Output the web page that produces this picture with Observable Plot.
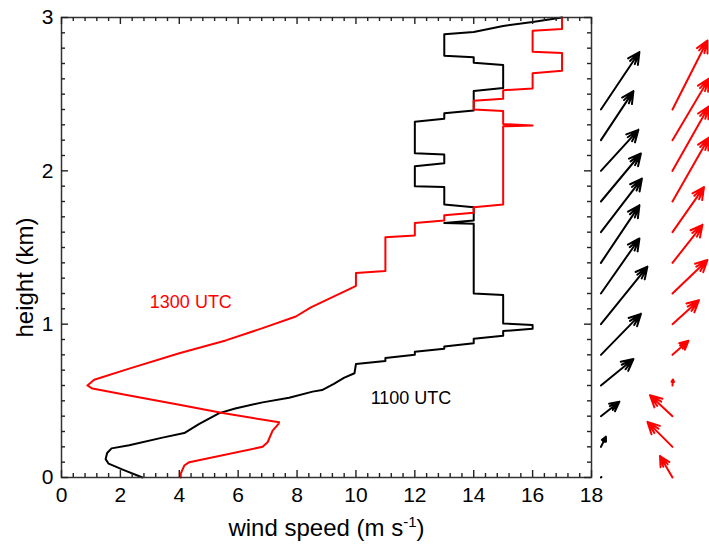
<!DOCTYPE html>
<html><head><meta charset="utf-8">
<script src="https://cdn.jsdelivr.net/npm/d3@7"></script>
<script src="https://cdn.jsdelivr.net/npm/@observablehq/plot@0.6"></script>
<style>
body{margin:0;background:#fff;}
svg{display:block;}
</style></head><body><div id="chart"></div>
<script>
// 1100 UTC profile (wind speed m/s, height km)
const speed1100 = [2.75,2.1,1.6,1.5,1.55,1.7,2.3,3.43,4.17,4.68,5.36,5.9,6.83,7.73,8.53,8.85,9.25,9.59,9.95,10,11,11,12,12,13,13,14,14,15,15,16,16,15,15,14,14,13,14,14,13,13,12,12,13,13,12,12,13,13,14,14,15,15,14,14,13,13,14,15,16,17];
const height1100 = [0,0.05,0.09,0.12,0.16,0.19,0.21,0.26,0.29,0.35,0.42,0.45,0.49,0.52,0.56,0.57,0.61,0.65,0.68,0.74,0.76,0.78,0.8,0.82,0.84,0.855,0.875,0.905,0.925,0.955,0.97,0.995,1.005,1.19,1.2,1.655,1.66,1.676,1.763,1.78,1.894,1.9,2.03,2.05,2.107,2.115,2.32,2.34,2.376,2.394,2.52,2.54,2.69,2.705,2.74,2.75,2.89,2.905,2.945,2.97,3.0];
// 1300 UTC profile
const speed1300 = [4.05,4.05,4.17,4.34,6.83,7.0,7.17,7.37,7.39,5.47,4.0,2.3,1.05,0.88,1.11,2.3,4.0,5.58,6.83,7.96,8.47,9.9,10,10,11,11,12,12,13,13,14,14,15,15,16,15,15,14,14,15,15,16,16,17,17,16,16,17,17];
const height1300 = [0,0.025,0.078,0.1,0.2,0.23,0.306,0.35,0.36,0.42,0.474,0.535,0.58,0.6,0.637,0.71,0.81,0.894,0.974,1.05,1.11,1.24,1.25,1.333,1.346,1.567,1.578,1.66,1.676,1.71,1.727,1.763,1.78,2.29,2.295,2.305,2.39,2.4,2.457,2.47,2.526,2.537,2.637,2.653,2.768,2.777,2.914,2.925,3.0];

// wind vectors (u east, v north, m/s) at heights
const arrowHeights = [0,0.2,0.4,0.6,0.8,1.0,1.2,1.4,1.6,1.8,2.0,2.2,2.4];
const u1100 = [0.1,1.0,3.7,6.5,8.0,9.3,7.7,7.7,8.2,8.0,7.5,6.5,7.7];
const v1100 = [0.1,2.0,2.9,5.3,8.2,11.5,11.0,11.5,10.7,9.6,8.2,9.8,11.5];
const u1300 = [-2.5,-5.0,-4.5,0.1,3.2,5.3,7.0,6.0,6.3,7.3,7.3,7.3,7.0];
const v1300 = [4.3,5.0,4.2,1.2,2.8,4.8,6.7,7.6,9.0,12.8,12.9,12.3,13.8];

const xTicks = [0,2,4,6,8,10,12,14,16,18];
const yTicks = [0,1,2,3];
const xMinor = d3.range(0, 18.001, 0.4).filter(v => Math.abs(v/2 - Math.round(v/2)) > 1e-6);
const yMinor = d3.range(0, 3.001, 0.1).filter(v => Math.abs(v - Math.round(v)) > 1e-6);

const seriesLabels = ["1300 UTC", "1100 UTC"];
const labelSpeed = [3.0, 10.5];
const labelHeight = [1.14, 0.52];
const labelColor = ["#ff0000", "#000000"];

const xLabel = "wind speed (m s-1)";
const yLabel = "height (km)";

const prof1100 = speed1100.map((s, i) => ({speed: s, height: height1100[i]}));
const prof1300 = speed1300.map((s, i) => ({speed: s, height: height1300[i]}));
const vec = (us, vs) => arrowHeights.map((h, i) => ({
  height: h,
  speed: Math.hypot(us[i], vs[i]),
  dir: Math.atan2(us[i], vs[i]) * 180 / Math.PI
}));
const vec1100 = vec(u1100, v1100);
const vec1300 = vec(u1300, v1300);
const labels = seriesLabels.map((t, i) => ({text: t, speed: labelSpeed[i], height: labelHeight[i], color: labelColor[i]}));

const pxPerUnit = 5; // arrow length scale: pixels per m/s
const arrowShape = {draw(ctx, l) {
  ctx.moveTo(0, 0); ctx.lineTo(0, -l);
  const w = Math.min(13, l * 0.45);
  for (const a of [13, 27]) {
    const r = a * Math.PI / 180;
    ctx.moveTo(-w * Math.sin(r), -l + w * Math.cos(r)); ctx.lineTo(0, -l);
    ctx.lineTo(w * Math.sin(r), -l + w * Math.cos(r));
  }
}};

const font = "'Liberation Sans', Arial, Helvetica, sans-serif";

const W = 709, H = 547, ML = 61, MR = 118, MT = 17, MB = 70;
const frameW = W - ML - MR, frameH = H - MT - MB;
const tickStyle = {stroke: "#222", strokeWidth: 1.4};
const xTickMarks = (vals, len) => [
  Plot.tickX(vals, {x: d => d, insetTop: frameH - len, ...tickStyle}),
  Plot.tickX(vals, {x: d => d, insetBottom: frameH - len, ...tickStyle})
];
const yTickMarks = (vals, len) => [
  Plot.tickY(vals, {y: d => d, insetRight: frameW - len, ...tickStyle}),
  Plot.tickY(vals, {y: d => d, insetLeft: frameW - len, ...tickStyle})
];

const chart = Plot.plot({
  width: W,
  height: H,
  marginLeft: ML,
  marginRight: MR,
  marginTop: MT,
  marginBottom: MB,
  style: {fontFamily: font, background: "#fff", color: "#000"},
  x: {domain: [0, 18]},
  y: {domain: [0, 3]},
  length: {type: "linear", domain: [0, 20], range: [0, 20 * pxPerUnit]},
  marks: [
    Plot.line(prof1100, {x: "speed", y: "height", stroke: "#000", strokeWidth: 2}),
    Plot.line(prof1300, {x: "speed", y: "height", stroke: "#ff0000", strokeWidth: 2}),
    Plot.frame({stroke: "#333", strokeWidth: 1.5}),
    ...xTickMarks(xTicks, 7), ...xTickMarks(xMinor, 4),
    ...yTickMarks(yTicks, 7), ...yTickMarks(yMinor, 4),
    Plot.vector(vec1100, {x: () => 18.32, y: "height", length: "speed", rotate: "dir", anchor: "start", shape: arrowShape, stroke: "#000", strokeWidth: 2}),
    Plot.vector(vec1300, {x: () => 20.75, y: "height", length: "speed", rotate: "dir", anchor: "start", shape: arrowShape, stroke: "#ff0000", strokeWidth: 2}),
    Plot.axisX(xTicks, {tickSize: 0, tickPadding: 10, fontSize: 21, label: null, tickFormat: d => String(d)}),
    Plot.axisY(yTicks, {tickSize: 0, tickPadding: 8, fontSize: 21, label: null, tickFormat: d => String(d)}),
    Plot.text(labels, {x: "speed", y: "height", text: "text", fill: "color", textAnchor: "start", fontSize: 18}),
    Plot.text([xLabel], {text: d => d, frameAnchor: "bottom", textAnchor: "middle", lineAnchor: "middle", dy: 51, fontSize: 24, fill: "#000"}),
    Plot.text([yLabel], {text: d => d, frameAnchor: "left", textAnchor: "middle", lineAnchor: "middle", dx: -36, dy: 30, rotate: -90, fontSize: 24, fill: "#000"})
  ]
});
document.getElementById("chart").appendChild(chart);

// render the "-1" in the x label as a superscript
chart.querySelectorAll("text").forEach(t => {
  if (t.textContent === xLabel) {
    const host = t.querySelector("tspan") || t;
    host.textContent = "";
    const ns = "http://www.w3.org/2000/svg";
    const a = document.createElementNS(ns, "tspan"); a.textContent = "wind speed (m s";
    const b = document.createElementNS(ns, "tspan"); b.textContent = "-1"; b.setAttribute("dy", "-9"); b.setAttribute("font-size", "15");
    const c = document.createElementNS(ns, "tspan"); c.textContent = ")"; c.setAttribute("dy", "9");
    host.appendChild(a); host.appendChild(b); host.appendChild(c);
  }
});
</script>
</body></html>
